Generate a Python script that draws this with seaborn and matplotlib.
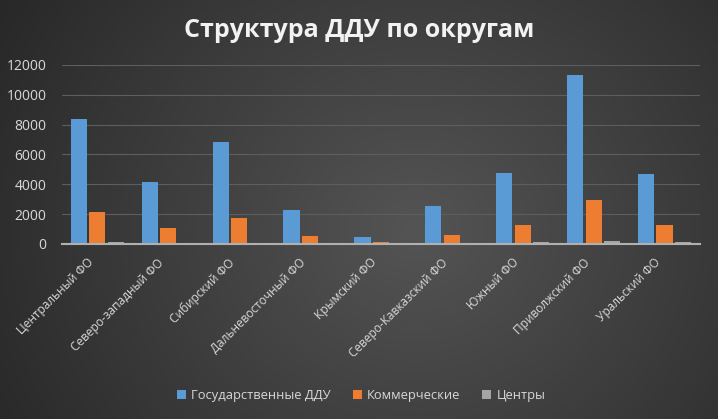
import numpy as np
import pandas as pd
import matplotlib
matplotlib.use("Agg")
import matplotlib.pyplot as plt
import matplotlib.transforms as mtransforms
import seaborn as sns

categories = ["Центральный ФО", "Северо-западный ФО", "Сибирский ФО", "Дальневосточный ФО",
              "Крымский ФО", "Северо-Кавказский ФО", "Южный ФО", "Приволжский ФО", "Уральский ФО"]
series_names = ["Государственные ДДУ", "Коммерческие", "Центры"]
gov = [8400, 4180, 6860, 2300, 490, 2570, 4780, 11350, 4715]
com = [2170, 1095, 1765, 560, 110, 625, 1250, 2970, 1250]
centers = [156, 90, 90, 20, 10, 20, 110, 225, 110]
yticks = [0, 2000, 4000, 6000, 8000, 10000, 12000]

df = pd.DataFrame({
    "Округ": categories * 3,
    "Серия": [series_names[0]] * 9 + [series_names[1]] * 9 + [series_names[2]] * 9,
    "Значение": gov + com + centers,
})

sns.set_theme(style="dark")
plt.rcParams["font.family"] = ["Open Sans", "DejaVu Sans"]

fig = plt.figure(figsize=(7.18, 4.19), dpi=100)

# background gradient
bg = fig.add_axes([0, 0, 1, 1], zorder=-10)
yy, xx = np.mgrid[0:1:200j, 0:1:300j]
r = np.sqrt(((xx - 0.58) / 0.7) ** 2 + ((yy - 0.45) / 1.1) ** 2)
val = 0.33 - 0.18 * np.clip(r, 0, 1.2)
img = np.dstack([val, val, val])
bg.imshow(np.clip(img, 0, 1), aspect="auto", extent=[0, 1, 0, 1], origin="lower")
bg.set_axis_off()

ax = fig.add_axes([0.086, 0.418, 0.889, 0.427])
ax.patch.set_alpha(0)
palette = {series_names[0]: "#5b9bd5", series_names[1]: "#ed7d31", series_names[2]: "#a5a5a5"}
sns.barplot(data=df, x="Округ", y="Значение", hue="Серия", palette=palette,
            width=0.78, gap=0.12, ax=ax, saturation=1, legend=True, linewidth=0)

ax.set_ylim(0, 12000)
ax.set_xlim(-0.5, 8.5)
ax.set_yticks(yticks)
ax.set_yticklabels([str(t) for t in yticks], color="#d9d9d9", fontsize=10)
ax.set_xticks(range(len(categories)))
ax.set_xticklabels(categories, rotation=45, ha="right", va="center", rotation_mode="anchor",
                   color="#d9d9d9", fontsize=8.6)
ax.tick_params(axis="y", length=0, pad=11)
ax.tick_params(axis="x", length=0, pad=12)
offset = mtransforms.ScaledTranslation(-6 / 100, 0, fig.dpi_scale_trans)
for lbl in ax.get_xticklabels():
    lbl.set_transform(lbl.get_transform() + offset)
ax.set_xlabel("")
ax.set_ylabel("")
ax.grid(axis="y", color="#5e5e5e", linewidth=0.8)
ax.set_axisbelow(True)
for s in ["top", "right", "left"]:
    ax.spines[s].set_visible(False)
ax.spines["bottom"].set_color("#b0b0b0")
ax.spines["bottom"].set_linewidth(1.5)

handles, labels = ax.get_legend_handles_labels()
ax.get_legend().remove()
leg = fig.legend(handles, labels, loc="center", bbox_to_anchor=(0.503, 0.057), ncol=3,
                 frameon=False, fontsize=9.3, handlelength=0.7, handleheight=0.7,
                 columnspacing=1.7, handletextpad=0.4)
for t in leg.get_texts():
    t.set_color("#d9d9d9")

fig.text(0.5, 0.928, "Структура ДДУ по округам", ha="center", va="center",
         fontsize=18, fontweight="bold", color="#f2f2f2")

fig.savefig("out.png", dpi=100)
